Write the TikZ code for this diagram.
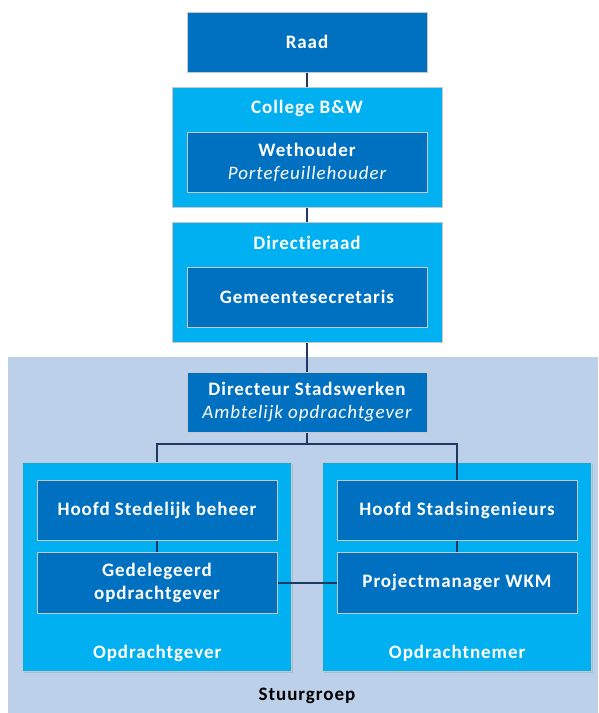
\documentclass[tikz,border=0pt]{standalone}
\usepackage{fontspec}
\setmainfont{Carlito}[LetterSpace=5, Ligatures=NoCommon]
\usetikzlibrary{shadows}
\definecolor{dblue}{HTML}{0070C0}
\definecolor{lblue}{HTML}{00B0F0}
\definecolor{bgblue}{HTML}{BDD0EA}
\definecolor{navy}{HTML}{1F3864}
\definecolor{edgegray}{HTML}{C8C8C8}
\begin{document}
\begin{tikzpicture}[x=1pt,y=-1pt,
  base/.style={draw=edgegray, line width=1pt, inner sep=0pt,
    drop shadow={opacity=0.25, shadow xshift=1.2pt, shadow yshift=-1.2pt}},
  darkbox/.style={base, fill=dblue, minimum width=240, minimum height=60,
    text=white, font=\fontsize{19}{25}\selectfont\bfseries, align=center},
  lightbox/.style={base, fill=lblue, minimum width=270},
  lbl/.style={text=white, font=\fontsize{19}{25}\selectfont\bfseries, inner sep=0pt},
  conn/.style={draw=navy, line width=2pt}]
\useasboundingbox (0,0) rectangle (598,713);
\fill[bgblue] (7.5,357) rectangle (598,713);
\node[lbl, text=black] (stuur) at (307,696) {Stuurgroep};

\node[darkbox] (raad) at (307,42) {Raad};

\node[lightbox, minimum height=120] (college) at (307,147) {};
\node[lbl] (collegelbl) at (307,108) {College B\&W};
\node[darkbox] (weth) at (307,162) {Wethouder\\[-2pt]{\mdseries\itshape Portefeuillehouder}};

\node[lightbox, minimum height=120] (dir) at (307,282) {};
\node[lbl] (dirlbl) at (307,243) {Directieraad};
\node[darkbox] (gem) at (307,297) {Gemeentesecretaris};

\node[darkbox] (ds) at (307,402) {Directeur Stadswerken\\[-2pt]{\mdseries\itshape Ambtelijk opdrachtgever}};

\node[lightbox, minimum width=269, minimum height=209] (og) at (157.2,567.2) {};
\node[lbl] (oglbl) at (157.2,653) {Opdrachtgever};
\node[darkbox] (hsb) at (157,510) {Hoofd Stedelijk beheer};
\node[darkbox, minimum height=61] (ged) at (157,582.5) {Gedelegeerd\\[-2pt]opdrachtgever};

\node[lightbox, minimum width=269, minimum height=209] (on) at (457.2,567.2) {};
\node[lbl] (onlbl) at (457.2,653) {Opdrachtnemer};
\node[darkbox] (hsi) at (457,510) {Hoofd Stadsingenieurs};
\node[darkbox, minimum height=61] (pm) at (457,582.5) {Projectmanager WKM};

\coordinate (split) at (307,444);
\draw[conn] (raad.south) -- (college.north);
\draw[conn] (college.south) -- (dir.north);
\draw[conn] (dir.south) -- (ds.north);
\draw[conn] (ds.south) -- (split);
\draw[conn] (split) -| (og.north);
\draw[conn] (split) -| (hsi.north);
\draw[conn] (hsb.south) -- (ged.north);
\draw[conn] (hsi.south) -- (pm.north);
\draw[conn] (ged.east) -- (pm.west);
\end{tikzpicture}
\end{document}
